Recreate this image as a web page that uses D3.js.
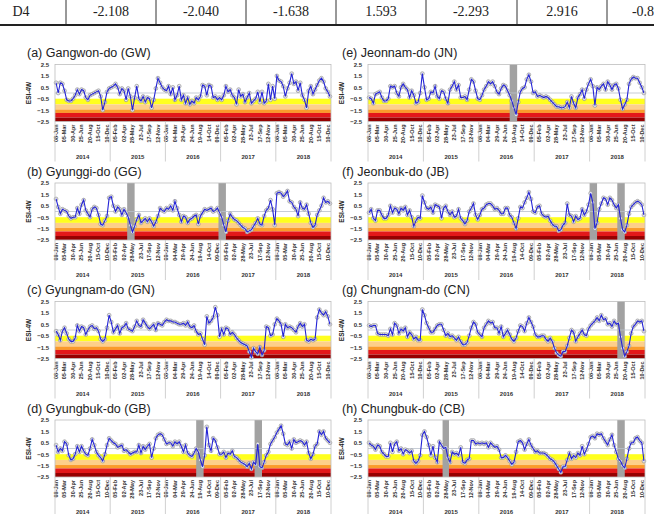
<!DOCTYPE html>
<html>
<head>
<meta charset="utf-8">
<script src="https://cdn.jsdelivr.net/npm/d3@7"></script>
<style>
  html, body { margin: 0; padding: 0; background: #fff; }
  svg text { font-family: Arial, "Liberation Sans", sans-serif; }
  .tbl { font-family: "Liberation Serif", "Times New Roman", serif !important; }
</style>
</head>
<body>
<svg width="654" height="514"></svg>
<script>
// table row cut off at the top of the figure
const tableRow = ["D4", "-2.108", "-2.040", "-1.638", "1.593", "-2.293", "2.916", "-0.8"];

// weekly axis: 52 weeks per year, label every 8 weeks
const years = [2014, 2015, 2016, 2017, 2018];
const tickLabels = ["08-Jan","05-Mar","30-Apr","25-Jun","20-Aug","15-Oct","10-Dec",
  "05-Feb","02-Apr","28-May","23-Jul","17-Sep","12-Nov",
  "08-Jan","04-Mar","29-Apr","24-Jun","19-Aug","14-Oct","09-Dec",
  "05-Feb","02-Apr","28-May","23-Jul","17-Sep","12-Nov",
  "08-Jan","05-Mar","30-Apr","25-Jun","20-Aug","15-Oct","10-Dec"];
const yTicks = [2.5, 1.5, 0.5, -0.5, -1.5, -2.5];

// drought classes (upper bound of each band)
const bandEdges = [-0.5, -1.0, -1.45, -1.75, -2.15, -2.5];
const bandColors = ["#ffff1e", "#fdcf8a", "#fa9b2a", "#e3181a", "#960000"];

const titles = ["(a) Gangwon-do (GW)", "(b) Gyunggi-do (GG)", "(c) Gyungnam-do (GN)", "(d) Gyungbuk-do (GB)",
  "(e) Jeonnam-do (JN)", "(f) Jeonbuk-do (JB)", "(g) Chungnam-do (CN)", "(h) Chungbuk-do (CB)"];

// grey bars: week index ranges
const events = [
  [], [[68, 75], [154, 161]], [], [[133, 140], [188, 195]],
  [[133, 140]], [[208, 215], [234, 241]], [[234, 241]], [[70, 76], [234, 241]]
];

// ESI-4W, one value every 2 weeks (26 per year)
const gw = [0.9,0.0,0.9,0.8,0.2,-0.6,-0.7,-0.7,-0.5,-0.2,0.3,-0.1,0.3,0.2,-0.4,-0.6,-0.2,-0.1,0.0,0.1,0.2,-0.3,-1.5,-0.8,0.1,0.4,
  0.5,0.6,0.8,0.5,-0.1,0.4,0.2,-0.6,0.4,-0.3,-1.5,-0.4,0.6,-0.5,-0.7,-0.3,-0.8,-0.4,-0.5,-1.3,-0.6,0.4,1.3,0.9,0.5,0.3,
  0.2,0.6,-0.1,0.5,-0.6,-0.2,0.6,-0.6,-0.2,-0.9,-0.4,-1.0,-0.7,-0.9,-0.4,-0.6,-0.3,0.7,0.6,-0.2,0.7,0.6,-0.4,-0.3,-0.6,-0.4,
  -0.6,-0.2,0.6,0.1,0.3,-0.2,-0.4,-1.0,0.3,-0.3,-0.1,-0.8,-0.4,0.0,-0.9,-0.7,-0.5,0.1,-0.8,0.1,-0.9,-0.7,0.8,-0.6,0.6,-0.5,
  1.5,1.1,1.0,0.6,-0.3,0.4,0.9,1.7,0.8,1.0,0.2,0.9,-0.2,-0.6,-1.3,0.2,0.6,-0.1,0.3,0.7,1.1,1.3,1.0,0.4,0.1,-0.3];
const gg = [1.1,0.4,-0.2,0.2,0.1,0.0,-0.4,-0.6,-0.5,-0.5,0.3,-0.2,0.6,1.0,0.1,-0.2,-0.5,0.2,0.4,0.3,-0.3,-1.1,-1.2,-0.8,-0.4,1.2,
  1.3,0.5,0.0,0.4,0.2,-0.3,0.2,-0.1,-0.5,-1.2,-1.8,-1.3,-0.7,-0.3,-1.0,-0.8,-0.6,-0.9,-0.6,-0.9,-1.3,-0.9,-0.4,0.3,0.1,0.0,
  0.3,0.2,0.5,0.1,0.9,0.3,-0.3,-0.9,-0.4,-0.5,-1.0,-0.7,-0.6,-0.4,-0.3,-1.1,-0.4,-0.1,0.2,0.1,0.2,0.3,0.0,0.1,0.3,-0.1,
  -0.5,-1.2,-1.8,-0.8,-0.2,-0.5,-0.7,-0.8,-1.0,-1.2,-1.4,-1.5,-1.8,-1.7,-1.6,-1.3,-1.0,-0.6,-1.1,-1.2,-0.4,0.1,0.3,1.0,0.2,-1.2,
  1.6,1.7,1.6,1.3,1.5,1.8,0.9,0.8,0.4,0.2,-0.4,0.8,0.3,0.2,0.6,-0.2,-1.0,-1.4,-1.2,-0.3,0.1,0.5,1.2,0.8,0.9,0.7];
const gn = [-0.1,-0.4,-0.9,-0.1,0.2,-0.3,-0.8,-1.0,-1.0,-0.7,0.4,-0.1,0.3,0.2,-0.4,0.0,0.3,0.4,0.1,0.2,-0.1,-0.8,-1.0,-0.8,0.2,1.3,
  0.7,-0.2,0.1,0.4,-0.3,0.2,0.3,0.6,0.1,0.0,-0.1,0.3,0.8,0.4,0.3,0.9,0.6,0.3,0.1,0.3,0.5,0.0,0.6,0.5,0.4,0.7,
  0.9,0.8,0.8,0.7,0.7,0.6,0.5,0.5,0.6,0.4,0.7,0.3,0.2,0.4,-0.1,-0.4,-0.3,-0.8,-1.3,1.2,0.6,0.8,1.1,2.0,1.3,-0.6,
  0.1,-0.4,0.2,0.1,-0.4,-0.2,-0.4,-0.7,-0.9,-1.1,-1.2,-1.3,-1.4,-1.9,-2.4,-1.6,-1.9,-2.1,-1.5,-2.2,-1.8,0.3,0.2,-0.5,-0.4,0.5,
  1.0,0.8,0.5,-0.6,0.5,0.2,0.3,0.2,0.0,-0.2,0.3,0.6,0.3,0.5,-0.9,-1.0,-0.8,-0.9,-0.8,1.1,1.8,1.5,1.3,1.6,1.2,0.5];
const gb = [0.3,-0.3,0.0,-0.2,0.6,0.4,-0.6,-1.0,-0.9,-0.5,0.2,-0.3,0.2,-0.2,-0.5,-0.6,0.0,0.8,0.3,-0.3,-0.6,-0.8,-1.1,-0.5,0.3,0.9,
  0.7,0.5,0.4,0.1,0.2,0.3,-0.2,-0.1,-0.3,-0.5,-0.4,-0.3,-0.3,0.3,-0.4,0.2,-0.1,0.2,0.4,-0.8,0.0,0.9,1.2,1.3,1.2,0.8,
  0.4,0.5,0.5,0.2,0.6,0.4,0.6,0.2,-0.3,0.3,-0.4,-0.6,-0.7,-0.4,0.0,-0.3,-1.0,-1.6,-0.6,1.9,0.3,-0.2,0.9,0.7,0.1,-0.5,
  -0.5,-0.3,-0.8,-0.4,-0.5,-0.2,-0.7,-0.8,-1.0,-1.2,-1.3,-1.4,-1.6,-1.3,-1.8,-1.2,-1.4,0.4,-1.6,-1.7,-1.2,-0.6,-0.3,0.4,0.7,1.0,
  1.4,1.7,2.0,1.3,0.4,0.3,0.6,0.0,0.8,0.5,0.6,0.7,0.6,0.3,0.6,-0.4,-0.9,-0.5,0.2,0.4,1.5,1.2,1.5,0.9,0.7,0.5];
const jn = [-0.4,-0.5,-0.9,-0.1,0.0,0.1,-0.4,-0.7,-0.7,-0.5,0.6,0.5,0.6,0.0,-0.3,0.5,0.8,0.5,0.3,-0.4,0.2,-0.2,-0.9,-0.8,0.0,1.7,
  0.5,-0.6,-0.5,0.1,0.0,0.6,-0.3,-0.5,0.2,0.1,-0.5,-0.9,0.3,0.6,1.0,0.3,0.7,-0.4,-0.4,-0.3,-0.6,0.3,1.2,1.0,0.2,-0.5,
  -0.6,-0.2,0.3,0.6,1.0,0.8,1.0,0.6,0.1,-0.1,0.4,0.7,0.6,0.2,-0.2,-0.7,-1.3,-1.9,-0.8,0.1,0.4,0.5,1.2,1.6,1.0,0.0,
  0.1,-0.3,-0.2,-0.3,-0.4,-0.3,-0.4,-0.6,-0.8,-1.0,-1.2,-1.2,-1.3,-1.3,-1.2,-0.8,-1.3,-0.3,-0.9,-1.3,-0.4,-0.1,0.3,-0.5,0.3,0.8,
  1.2,0.6,-1.1,0.5,0.3,0.6,0.8,0.3,1.0,0.7,0.3,0.7,0.8,0.4,-0.6,-1.4,-1.0,-0.6,0.8,1.2,1.4,1.3,1.3,0.9,0.5,0.0];
const jb = [-0.1,0.2,-0.6,-0.8,0.1,0.1,-0.3,-0.6,-0.6,-0.3,0.5,-0.1,0.3,0.2,-0.2,0.3,0.1,0.4,-0.3,0.1,-0.5,-1.3,-0.8,-0.5,-0.6,1.4,
  0.8,0.3,0.2,0.4,-0.1,0.6,0.5,0.4,-0.6,0.3,0.5,0.0,-0.3,0.0,-0.5,-0.4,0.2,-0.6,-0.8,-1.1,-0.8,0.0,0.3,0.7,-0.3,-0.7,
  -0.3,0.2,0.3,0.6,0.7,0.7,0.5,0.2,0.3,0.1,-0.2,-0.2,0.3,0.3,-0.3,-0.5,-1.0,-1.5,-0.6,0.4,0.3,0.8,1.2,1.7,1.1,0.0,
  -0.1,0.4,0.5,-0.2,-0.4,-0.5,-0.4,-0.8,-1.1,-1.3,-1.3,-1.7,-1.6,-1.2,-1.0,0.7,-0.3,-0.4,-0.9,-0.4,-0.7,-0.6,0.2,-0.3,0.0,0.6,
  1.6,0.8,-1.5,-1.0,0.2,0.7,1.2,1.1,0.6,1.2,1.0,0.6,0.3,0.6,-0.6,-1.6,-1.8,-1.2,-0.2,0.4,0.6,0.8,0.9,0.8,0.6,-0.3];
const cn = [0.4,0.3,0.4,0.4,-0.3,-0.4,-0.4,-0.4,-0.4,-0.5,0.1,-0.4,0.6,0.4,-0.3,0.1,-0.1,0.2,-0.6,-0.2,-0.4,-0.8,-0.6,-0.9,-0.9,1.8,
  1.3,0.6,0.2,-0.2,-0.2,0.1,0.4,0.5,0.5,0.0,-0.5,-0.3,-0.6,-0.5,-0.7,-0.9,-0.6,-1.0,-1.3,-1.3,-1.1,-0.5,0.2,0.7,0.5,-0.2,
  -0.4,-0.6,0.2,0.5,0.8,0.6,0.7,0.2,0.2,-0.3,0.3,-0.6,-0.3,0.0,-0.4,-0.8,-1.0,-0.7,-0.1,0.4,0.3,-0.1,0.6,1.1,0.7,0.3,
  -0.4,-0.6,-0.6,-0.5,-0.5,-0.8,-1.0,-0.7,-1.0,-1.6,-2.0,-2.2,-2.3,-1.9,-1.9,-1.4,-0.7,0.0,-0.2,-1.0,-0.6,-0.3,0.0,-0.4,-0.5,0.1,
  0.4,0.6,0.8,1.1,0.8,1.3,0.9,1.0,0.5,0.6,0.3,0.8,0.5,0.6,-0.6,-1.6,-2.3,-1.9,-1.4,-0.3,0.3,0.5,0.8,0.7,0.8,-0.1];
const cb = [0.5,0.3,0.2,-0.1,0.3,0.2,-0.3,-0.5,-0.7,-0.7,0.5,-0.3,0.4,0.6,-0.2,0.0,-0.5,-0.1,-0.2,-0.4,-0.2,-1.1,-1.3,-1.1,-0.6,1.2,
  1.5,1.0,0.3,-0.6,0.2,-0.8,-1.2,0.6,0.3,0.0,0.1,-0.8,-1.2,-0.3,-0.5,-0.4,-0.6,0.1,-1.2,-1.3,-1.0,-0.9,0.7,0.7,0.4,0.5,
  0.4,0.5,0.4,0.5,0.1,0.5,0.3,0.1,0.2,-0.1,-0.8,-0.8,-0.6,-0.8,-1.1,-1.4,-1.2,-0.3,0.6,0.7,0.5,-0.1,0.4,0.8,0.3,0.0,
  -0.3,-0.2,-0.4,-0.4,-0.4,-0.5,-0.7,-0.9,-1.0,-1.2,-1.5,-1.8,-2.1,-1.6,-1.6,-1.0,-0.4,-0.9,-0.6,-0.8,-0.4,-0.6,0.2,-0.5,-0.1,0.4,
  1.0,1.1,0.9,1.3,1.2,1.3,0.9,0.6,0.3,0.8,1.2,0.3,-0.3,-0.9,-1.1,-1.5,-1.7,-0.9,0.0,0.5,0.5,0.9,1.0,0.7,0.5,-1.1];
const series = [gw, gg, gn, gb, jn, jb, cn, cb];

const svg = d3.select("svg");

// ---- table strip at the top ----
const colLines = [66, 156, 246, 336, 426, 517, 607];
const colCenters = [21, 111, 201, 291, 381, 471, 562, 643];
svg.selectAll(".col-line").data(colLines).join("line")
  .attr("x1", d => d).attr("x2", d => d).attr("y1", 0).attr("y2", 24)
  .attr("stroke", "#333").attr("stroke-width", 1);
svg.append("line").attr("x1", 0).attr("x2", 654).attr("y1", 25).attr("y2", 25)
  .attr("stroke", "#222").attr("stroke-width", 2);
svg.selectAll(".tbl").data(tableRow).join("text")
  .attr("class", "tbl")
  .attr("x", (d, i) => colCenters[i]).attr("y", 16)
  .attr("text-anchor", "middle")
  .attr("font-size", 14).attr("fill", "#222")
  .text(d => d);

// ---- panels ----
const cols = [{ x0: 55, x1: 331, tx: 27 }, { x0: 368, x1: 645, tx: 342 }];
const rowTops = [64.5, 183, 301.5, 420];
const ph = 57;

series.forEach((vals, p) => {
  const c = cols[Math.floor(p / 4)];
  const top = rowTops[p % 4];
  const x = d3.scaleLinear().domain([0, 260]).range([c.x0, c.x1]);
  const y = d3.scaleLinear().domain([-2.5, 2.5]).range([top + ph, top]);
  const g = svg.append("g");

  g.append("text").attr("x", c.tx).attr("y", top - 7.5)
    .attr("font-size", 12.5).attr("fill", "#222").text(titles[p]);

  // drought bands
  g.selectAll(".band").data(bandColors).join("rect")
    .attr("x", c.x0).attr("width", c.x1 - c.x0)
    .attr("y", (d, i) => y(bandEdges[i]))
    .attr("height", (d, i) => y(bandEdges[i + 1]) - y(bandEdges[i]))
    .attr("fill", d => d);

  // event bars
  g.selectAll(".ev").data(events[p]).join("rect")
    .attr("x", d => x(d[0])).attr("width", d => x(d[1]) - x(d[0]))
    .attr("y", top).attr("height", ph)
    .attr("fill", "#a2a2a2");

  g.append("line").attr("x1", c.x0).attr("x2", c.x1)
    .attr("y1", y(0)).attr("y2", y(0))
    .attr("stroke", "#b9c0cc").attr("stroke-width", 0.8);

  const pts = vals.map((v, j) => [2 * j + 1, v]);
  g.selectAll(".pt").data(pts).join("circle")
    .attr("cx", d => x(d[0])).attr("cy", d => y(d[1])).attr("r", 1.9)
    .attr("fill", "#e4e4ee").attr("stroke", "#8a8a8a").attr("stroke-width", 0.6);
  g.append("path").datum(pts)
    .attr("d", d3.line().x(d => x(d[0])).y(d => y(d[1])))
    .attr("fill", "none").attr("stroke", "#2424d6").attr("stroke-width", 1.1);

  g.append("rect").attr("x", c.x0).attr("y", top)
    .attr("width", c.x1 - c.x0).attr("height", ph)
    .attr("fill", "none").attr("stroke", "#bdbdbd").attr("stroke-width", 0.8);

  // y axis
  const ya = g.append("g").attr("transform", `translate(${c.x0 - 3},0)`)
    .call(d3.axisLeft(y).tickValues(yTicks).tickSize(0).tickFormat(d3.format(".1f")));
  ya.select(".domain").remove();
  ya.selectAll("text").attr("font-size", 6).attr("font-weight", "bold").attr("fill", "#333");

  g.append("text")
    .attr("transform", `translate(${c.x0 - 24},${top + ph / 2}) rotate(-90)`)
    .attr("text-anchor", "middle").attr("font-size", 6.5).attr("font-weight", "bold")
    .attr("fill", "#222").text("ESI-4W");

  // x axis
  const xa = g.append("g").attr("transform", `translate(0,${top + ph})`)
    .call(d3.axisBottom(x).tickValues(tickLabels.map((d, i) => 8 * i + 0.5))
      .tickSize(0).tickFormat((d, i) => tickLabels[i]));
  xa.select(".domain").remove();
  xa.selectAll("text")
    .attr("transform", "rotate(-90)").attr("text-anchor", "end")
    .attr("x", -3).attr("y", 0).attr("dy", "0.35em")
    .attr("font-size", 5.5).attr("font-weight", "bold").attr("fill", "#333");

  // year separators and labels
  g.selectAll(".ysep").data(d3.range(6)).join("line")
    .attr("x1", d => x(52 * d)).attr("x2", d => x(52 * d))
    .attr("y1", top + ph).attr("y2", top + ph + 40)
    .attr("stroke", "#c4c4c4").attr("stroke-width", 0.8);
  g.selectAll(".yr").data(years).join("text")
    .attr("x", (d, i) => x(52 * i + 26)).attr("y", top + ph + 37)
    .attr("text-anchor", "middle").attr("font-size", 6).attr("font-weight", "bold")
    .attr("fill", "#333").text(d => d);
});
</script>
</body>
</html>
